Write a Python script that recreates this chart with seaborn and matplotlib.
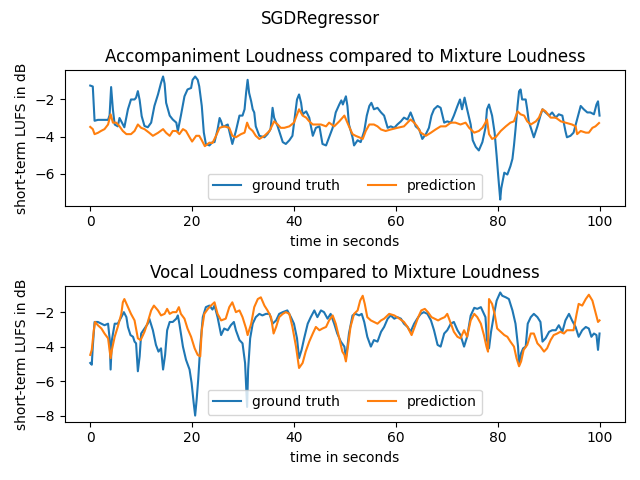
import matplotlib
matplotlib.use('Agg')
import matplotlib.pyplot as plt
import seaborn as sns

# accompaniment loudness (top panel)
acc_true_t = [0, 0.5, 0.85, 1.5, 2.5, 3.5, 3.8, 4.1, 4.45, 4.8, 5.4, 5.75, 6.4, 6.7, 7.4, 8.0, 8.7, 9.0, 9.35, 9.7,
              10.1, 10.65, 11.3, 11.96, 12.6, 13.3, 13.9, 14.3, 14.6, 14.9, 15.6, 16.2, 16.9, 17.2, 17.8, 18.5, 19.1, 19.8,
              20.1, 20.6, 21.1, 21.4, 21.9, 22.3, 22.7, 23.4, 24.0, 24.4, 25.0, 25.4, 25.7, 26.0, 26.3, 27.0, 27.6, 27.9,
              28.6, 29.3, 29.9, 30.3, 30.6, 30.9, 31.2, 31.6, 31.9, 32.2, 32.5, 33.2, 34.2, 34.8, 35.4, 35.6, 35.8, 36.1,
              36.8, 37.4, 37.8, 38.4, 39.1, 39.7, 40.2, 40.6, 41.0, 41.4, 41.7, 42.4, 43.0, 43.7, 44.3, 45.0, 45.6, 46.3,
              46.9, 47.6, 48.2, 48.9, 49.3, 49.6, 50.2, 50.5, 50.8, 51.5, 51.8, 52.5, 53.1, 53.8, 54.3, 54.8, 55.2, 55.7,
              56.4, 57.1, 57.7, 58.4, 59.0, 59.7, 60.3, 61.0, 61.6, 62.3, 62.9, 63.3, 63.9, 64.6, 65.2, 65.9, 66.5, 67.0,
              67.5, 68.2, 68.8, 69.5, 70.1, 70.8, 71.4, 72.1, 72.6, 73.0, 73.5, 74.0, 74.7, 75.1, 75.7, 76.3, 77.0, 77.6,
              77.9, 78.3, 78.9, 79.4, 79.8, 80.1, 80.5, 80.7, 81.3, 81.9, 82.5, 82.9, 83.2, 83.5, 83.9, 84.2, 84.5, 84.8,
              85.5, 85.8, 86.1, 86.8, 87.1, 87.8, 88.4, 88.8, 89.4, 90.1, 90.7, 91.4, 92.0, 92.7, 93.3, 93.6, 94.3, 94.9,
              95.6, 96.3, 96.9, 97.6, 98.2, 98.9, 99.4, 99.7, 100]
acc_true = [-1.25, -1.3, -3.15, -3.1, -3.1, -3.1, -2.85, -1.33, -2.55, -3.35, -3.45, -3.0, -3.35, -3.5, -2.53, -2.0, -2.0,
            -1.9, -1.55, -2.03, -2.9, -3.43, -3.5, -3.25, -2.35, -1.73, -1.1, -0.76, -1.15, -2.18, -2.87, -3.08, -3.25,
            -3.7, -2.87, -1.83, -1.46, -1.38, -0.94, -0.76, -0.94, -1.29, -2.35, -3.78, -4.4, -4.48, -4.3, -4.3, -3.62,
            -3.0, -3.18, -3.45, -3.45, -3.35, -4.04, -4.4, -3.7, -2.87, -2.87, -2.53, -1.65, -0.94, -1.65, -2.1, -2.53,
            -2.7, -3.45, -3.96, -4.04, -3.87, -3.6, -3.08, -2.45, -2.98, -3.45, -3.96, -4.3, -4.4, -4.2, -3.96, -2.87,
            -2.0, -1.73, -2.18, -2.8, -2.64, -2.98, -3.96, -3.53, -3.45, -4.4, -4.48, -4.04, -3.53, -2.7, -2.27, -2.05,
            -2.27, -1.83, -2.35, -3.35, -4.04, -4.48, -4.2, -4.3, -3.7, -2.87, -2.35, -2.18, -2.53, -2.45, -2.7, -2.87,
            -3.53, -3.45, -3.53, -3.35, -3.18, -2.98, -3.08, -2.7, -2.98, -3.45, -3.62, -4.13, -3.87, -3.53, -2.87, -2.53,
            -2.35, -2.45, -3.25, -3.18, -3.25, -2.87, -2.35, -2.0, -2.53, -1.9, -2.53, -3.35, -4.2, -4.56, -4.75, -4.3,
            -3.53, -2.53, -2.27, -2.87, -3.79, -5.05, -6.1, -7.4, -6.8, -5.95, -6.05, -5.6, -5.2, -4.48, -3.62, -2.35,
            -1.56, -1.46, -2.0, -2.0, -2.53, -3.18, -3.79, -4.04, -3.45, -2.87, -2.53, -2.7, -2.87, -2.7, -2.98, -2.8,
            -2.87, -3.7, -4.04, -3.96, -3.79, -3.08, -2.35, -2.53, -2.7, -2.7, -2.8, -2.27, -2.1, -2.87]

acc_pred_t = [0, 0.5, 0.85, 1.5, 2.1, 2.8, 3.5, 4.0, 4.45, 5.1, 5.75, 6.4, 7.1, 8.0, 8.7, 9.35, 10.0, 10.65, 11.6, 12.3,
              13.3, 14.3, 14.9, 15.6, 16.2, 16.9, 17.5, 18.2, 18.8, 19.5, 20.0, 20.8, 21.4, 21.9, 22.5, 23.4, 24.0, 24.7,
              25.4, 26.3, 27.3, 27.9, 28.6, 29.6, 30.3, 30.8, 31.2, 31.9, 32.5, 33.2, 34.2, 35.2, 36.1, 36.8, 37.4, 38.1,
              39.1, 40.0, 41.0, 41.7, 42.4, 43.0, 43.7, 44.6, 45.3, 46.3, 46.9, 47.9, 48.9, 49.9, 50.8, 51.5, 52.1, 52.8,
              53.5, 54.1, 54.8, 55.7, 56.4, 57.1, 58.0, 59.0, 60.3, 61.6, 62.3, 62.9, 63.6, 64.2, 64.9, 65.9, 66.9, 67.8,
              68.8, 69.8, 70.8, 71.7, 72.7, 73.7, 74.4, 75.4, 76.3, 77.0, 77.6, 77.9, 78.3, 78.9, 79.6, 80.6, 81.6, 82.5,
              83.2, 83.9, 84.5, 85.2, 85.8, 86.5, 87.5, 88.1, 88.8, 89.4, 90.4, 91.4, 92.4, 93.3, 94.6, 95.3, 95.6, 96.3,
              97.3, 97.9, 98.6, 99.2, 99.9]
acc_pred = [-3.48, -3.6, -3.87, -3.8, -3.7, -3.6, -3.35, -2.8, -3.25, -3.25, -3.45, -3.7, -3.87, -3.87, -3.7, -3.35, -3.53,
            -3.6, -3.8, -3.96, -3.8, -3.6, -3.8, -3.96, -3.7, -3.7, -3.87, -3.6, -3.7, -4.04, -4.27, -3.96, -3.96, -4.2,
            -4.52, -4.33, -4.35, -3.96, -3.53, -3.45, -3.53, -3.96, -4.04, -3.87, -3.79, -3.25, -3.53, -3.7, -3.96, -4.13,
            -3.96, -3.7, -3.18, -3.35, -3.53, -3.53, -3.45, -3.25, -2.53, -2.87, -2.98, -3.18, -3.35, -3.35, -3.35, -3.45,
            -3.25, -3.45, -3.18, -2.87, -3.45, -3.87, -3.96, -4.04, -4.13, -3.7, -3.35, -3.35, -3.45, -3.62, -3.7, -3.62,
            -3.53, -3.45, -3.25, -3.08, -3.25, -3.45, -3.79, -3.96, -3.79, -3.62, -3.45, -3.45, -3.25, -3.25, -3.35,
            -3.25, -3.53, -3.79, -3.7, -3.53, -3.25, -3.08, -3.87, -4.13, -4.04, -3.7, -3.45, -3.25, -3.18, -2.64, -2.8,
            -2.87, -3.18, -3.35, -3.18, -2.98, -2.53, -2.64, -2.98, -2.98, -3.18, -3.25, -3.35, -3.45, -3.87, -3.7, -3.79,
            -3.79, -3.53, -3.45, -3.27]

# vocal loudness (bottom panel)
voc_true_t = [0, 0.3, 0.5, 0.85, 1.5, 2.2, 2.8, 3.5, 3.8, 4.0, 4.25, 4.8, 5.4, 6.1, 6.6, 7.1, 7.4, 7.9, 8.4, 8.7, 9.0,
              9.35, 9.7, 10.0, 10.65, 11.3, 11.6, 12.3, 12.9, 13.4, 13.9, 14.3, 14.7, 15.1, 15.6, 16.2, 16.9, 17.2, 17.5,
              18.2, 18.8, 19.5, 19.9, 20.3, 20.6, 20.9, 21.2, 21.6, 22.1, 22.7, 23.4, 24.0, 24.4, 25.0, 25.7, 26.3, 27.0,
              27.6, 28.2, 28.6, 29.3, 29.9, 30.4, 30.8, 31.0, 31.4, 31.9, 32.5, 33.2, 33.8, 34.5, 35.2, 35.8, 36.5, 37.1,
              37.8, 38.7, 39.4, 40.0, 40.6, 41.0, 41.5, 42.0, 42.7, 43.3, 44.0, 44.6, 45.3, 45.9, 46.6, 47.2, 47.9, 48.5,
              49.2, 49.9, 50.2, 50.5, 50.8, 51.5, 52.1, 52.8, 53.3, 53.8, 54.4, 55.1, 55.7, 56.4, 57.1, 57.7, 58.4, 59.0,
              59.7, 60.3, 61.0, 61.6, 62.3, 62.9, 63.6, 64.2, 64.9, 65.5, 66.2, 66.9, 67.5, 68.2, 68.8, 69.5, 70.1, 70.8,
              71.4, 72.1, 72.7, 73.4, 74.0, 74.7, 75.4, 76.0, 76.7, 77.3, 77.6, 77.9, 78.3, 78.7, 79.3, 79.8, 80.5, 80.9,
              81.6, 82.2, 82.9, 83.5, 84.0, 84.2, 84.6, 85.0, 85.5, 85.9, 86.5, 87.1, 87.8, 88.4, 88.8, 89.4, 90.1, 90.7,
              91.4, 92.0, 92.7, 93.3, 94.0, 94.6, 95.3, 95.9, 96.6, 97.3, 97.9, 98.4, 98.9, 99.4, 99.7, 100]
voc_true = [-4.95, -5.05, -4.0, -2.57, -2.57, -2.67, -2.76, -2.67, -3.52, -5.33, -3.62, -2.67, -2.67, -2.29, -2.0, -2.29,
            -2.86, -3.33, -3.43, -3.71, -3.81, -5.43, -4.57, -3.24, -2.95, -2.67, -2.38, -3.05, -3.9, -4.29, -4.1, -5.33,
            -4.48, -3.05, -2.57, -2.57, -2.38, -2.19, -2.67, -4.0, -4.76, -5.33, -6.1, -7.24, -8.0, -7.05, -5.9, -4.0,
            -2.29, -1.71, -1.62, -1.85, -1.62, -2.29, -3.33, -2.95, -3.05, -2.76, -2.57, -3.05, -3.62, -3.81, -4.95,
            -7.5, -5.33, -3.52, -2.67, -2.29, -2.1, -2.19, -2.1, -2.1, -2.67, -2.48, -2.1, -2.0, -1.9, -2.29, -2.67,
            -3.52, -4.67, -4.19, -3.52, -2.67, -2.29, -1.9, -2.29, -1.9, -2.0, -2.38, -2.1, -2.67, -3.24, -3.71, -4.0,
            -4.67, -4.0, -3.24, -2.19, -2.1, -2.19, -2.1, -2.57, -3.43, -4.0, -3.62, -3.71, -3.14, -2.86, -2.38, -2.19,
            -2.38, -2.29, -2.38, -2.67, -2.86, -3.14, -2.67, -2.38, -2.1, -2.0, -2.1, -2.48, -3.05, -3.9, -4.0, -3.24,
            -3.05, -2.67, -2.57, -3.05, -3.33, -4.0, -3.43, -2.2, -1.75, -1.81, -1.71, -2.1, -2.29, -3.62, -4.1, -3.14,
            -2.1, -1.33, -0.86, -1.05, -1.14, -1.24, -1.9, -2.67, -4.0, -5.05, -4.38, -4.1, -4.0, -2.67, -2.29, -2.1,
            -2.29, -2.57, -3.71, -3.52, -3.14, -3.05, -3.05, -2.76, -3.14, -2.48, -2.1, -2.48, -2.86, -3.43, -3.05,
            -2.86, -2.95, -3.43, -3.24, -3.33, -4.19, -3.24]

voc_pred_t = [0, 0.3, 0.7, 0.95, 1.5, 2.2, 2.8, 3.5, 4.0, 4.25, 4.8, 5.4, 6.1, 6.4, 6.7, 7.4, 8.0, 8.7, 9.35, 9.9,
              10.65, 11.3, 11.96, 12.5, 13.3, 13.9, 14.6, 15.1, 15.6, 16.2, 16.9, 17.4, 17.8, 18.5, 19.1, 19.8, 20.5,
              21.1, 21.6, 21.9, 22.4, 23.1, 23.7, 24.4, 25.0, 25.7, 26.6, 27.3, 27.9, 28.6, 29.3, 29.9, 30.6, 30.9, 31.6,
              32.2, 32.9, 33.5, 34.2, 34.8, 35.5, 36.0, 36.5, 37.1, 37.8, 38.4, 39.1, 39.7, 40.4, 41.0, 41.7, 42.3, 43.0,
              43.7, 44.3, 45.0, 45.6, 46.3, 46.9, 47.6, 48.2, 48.9, 49.5, 49.9, 50.2, 50.6, 51.1, 51.8, 52.5, 53.0, 53.5,
              53.9, 54.4, 55.1, 55.7, 56.4, 57.1, 57.7, 58.7, 59.7, 60.7, 61.6, 62.3, 63.1, 63.7, 64.4, 65.0, 65.7, 66.3,
              67.0, 67.6, 68.3, 68.9, 69.6, 70.1, 70.8, 71.4, 72.1, 72.7, 73.4, 74.0, 74.7, 75.4, 76.0, 76.7, 77.3, 77.8,
              78.1, 78.3, 78.9, 79.4, 79.9, 80.6, 81.3, 81.9, 82.5, 83.2, 83.7, 84.2, 84.6, 85.1, 85.8, 86.5, 87.1, 87.8,
              88.4, 89.1, 89.7, 90.4, 91.0, 91.7, 92.3, 93.0, 93.6, 94.3, 94.9, 95.5, 95.9, 96.6, 97.3, 97.9, 98.6, 99.2,
              99.7, 100]
voc_pred = [-4.48, -4.19, -3.05, -2.57, -2.76, -2.95, -3.24, -3.52, -4.67, -4.19, -3.43, -2.86, -2.1, -1.43, -1.24, -1.71,
            -2.1, -2.48, -3.52, -3.62, -3.14, -2.57, -1.9, -1.62, -1.9, -2.19, -2.1, -1.81, -2.1, -2.0, -2.0, -1.71, -2.1,
            -2.38, -2.95, -3.43, -4.1, -4.48, -4.57, -3.05, -2.1, -1.81, -1.62, -1.43, -2.1, -2.48, -2.38, -1.71, -1.43,
            -2.0, -1.9, -2.29, -2.95, -3.33, -2.67, -1.71, -1.24, -1.14, -1.62, -1.9, -2.29, -3.24, -2.86, -2.29, -2.1,
            -2.0, -2.1, -2.86, -4.0, -5.24, -4.95, -4.29, -3.71, -3.24, -2.86, -3.05, -2.95, -2.86, -2.48, -2.19, -2.67,
            -3.52, -4.29, -4.48, -4.86, -4.0, -2.86, -2.1, -1.9, -1.33, -1.05, -1.52, -2.29, -2.48, -2.57, -2.67, -2.48,
            -2.38, -2.1, -2.19, -2.38, -2.57, -2.86, -3.33, -2.86, -2.29, -1.9, -1.81, -2.0, -2.29, -2.38, -2.48, -2.38,
            -2.29, -2.1, -2.67, -3.14, -3.43, -3.52, -3.05, -3.43, -2.48, -2.1, -2.29, -2.67, -3.33, -4.0, -4.29, -1.24,
            -1.52, -2.1, -2.95, -3.14, -3.33, -3.43, -3.71, -4.0, -4.67, -5.14, -4.86, -4.19, -3.9, -3.24, -3.24, -3.81,
            -4.0, -4.29, -4.1, -3.62, -3.33, -3.24, -3.14, -3.24, -3.05, -3.05, -3.05, -2.1, -1.52, -1.62, -1.24, -0.99,
            -1.33, -2.0, -2.57, -2.48]

panels = [
    ('Accompaniment Loudness compared to Mixture Loudness', acc_true_t, acc_true, acc_pred_t, acc_pred),
    ('Vocal Loudness compared to Mixture Loudness', voc_true_t, voc_true, voc_pred_t, voc_pred),
]

fig, axes = plt.subplots(2, 1, figsize=(6.4, 4.8), dpi=100)
for ax, (title, tt, yt, tp, yp) in zip(axes, panels):
    sns.lineplot(x=tt, y=yt, ax=ax, label='ground truth', color='tab:blue', estimator=None, sort=False)
    sns.lineplot(x=tp, y=yp, ax=ax, label='prediction', color='tab:orange', estimator=None, sort=False)
    ax.set_title(title)
    ax.set_xlabel('time in seconds')
    ax.set_ylabel('short-term LUFS in dB')
    ax.legend(loc='lower center', ncol=2)
fig.suptitle('SGDRegressor')
plt.tight_layout()
plt.savefig('out.png', dpi=100)
